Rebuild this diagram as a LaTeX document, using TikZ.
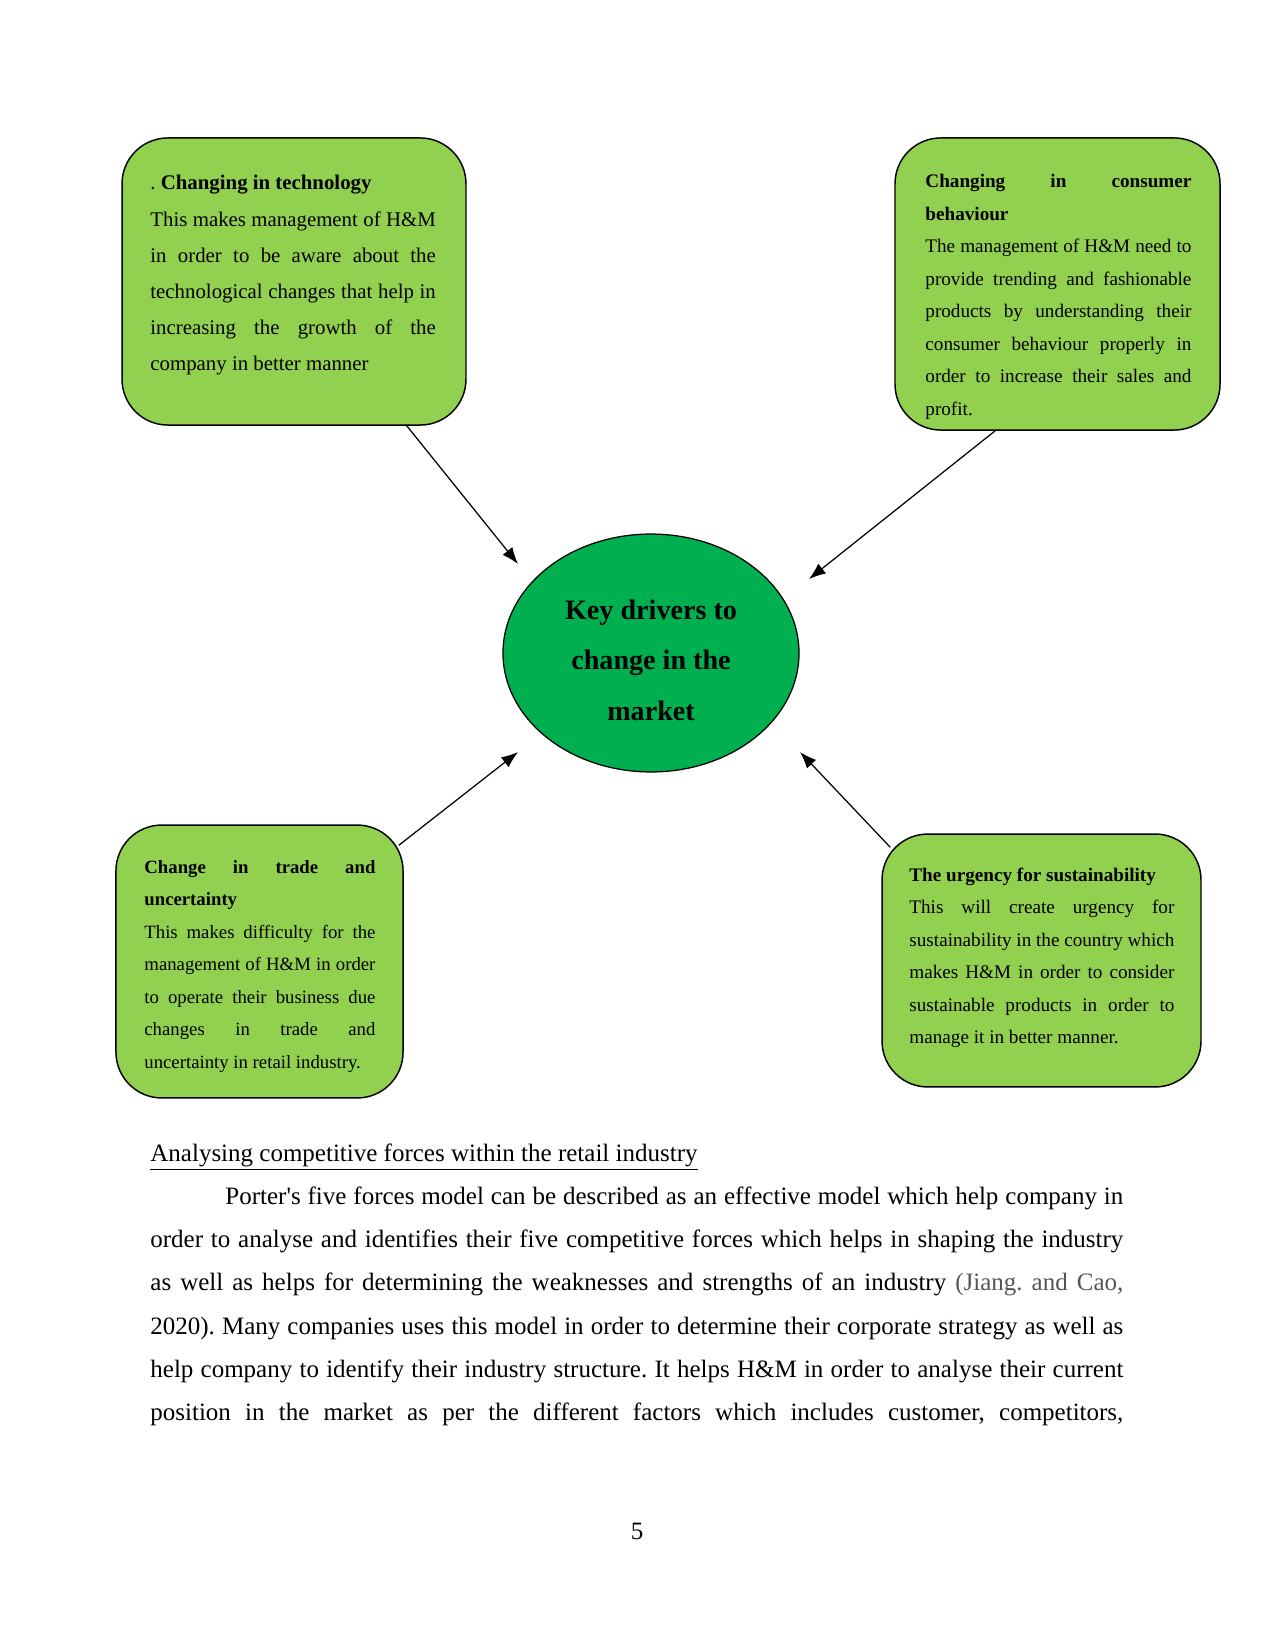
\documentclass[tikz,border=0pt]{standalone}
\usepackage{fontspec}
\setmainfont{Liberation Serif}
\usetikzlibrary{shapes.geometric,arrows.meta}
\definecolor{boxgreen}{HTML}{92D050}
\definecolor{coregreen}{HTML}{00B050}
\definecolor{citegray}{HTML}{555555}
\frenchspacing
\newcommand{\straightquote}{{\addfontfeature{Ligatures=TeXOff}'}}
\tikzset{
  drvbox/.style={draw=black, line width=0.7pt, fill=boxgreen, rounded corners=22pt, inner sep=0pt},
  drvtext/.style={anchor=base west, inner sep=0pt, align=justify},
  conn/.style={line width=0.6pt, -{Latex[length=8pt,width=6pt]}},
}
\begin{document}
\begin{tikzpicture}[x=0.48pt, y=-0.48pt]
\useasboundingbox (0,0) rectangle (1275,1650);
% boxes
\node[drvbox, minimum width=165.1pt, minimum height=137.8pt] (tl) at (294,281.5) {};
\node[drvbox, minimum width=156pt, minimum height=140.2pt] (tr) at (1057.5,284) {};
\node[drvbox, minimum width=137.8pt, minimum height=131pt] (bl) at (259.5,961.5) {};
\node[drvbox, minimum width=153.1pt, minimum height=121.4pt] (br) at (1041.5,960.5) {};
% centre
\node[draw=black, line width=0.6pt, fill=coregreen, ellipse, minimum width=142.1pt, minimum height=114.2pt, inner sep=0pt] (core) at (651,653) {};
\node[anchor=base, inner sep=0pt, align=center, font={\fontsize{13.5}{24.2}\selectfont\bfseries}] (coretext) at (651,720) {Key drivers to\\change in the\\market};
% box texts
\node[drvtext, text width=137pt, font={\fontsize{10}{17.3}\selectfont}] (tltext) at (150,190)
{. \textbf{Changing in technology}\\
This makes management of H\&M\linebreak in order to be aware about the\linebreak technological changes that help in\linebreak increasing the growth of the\linebreak company in better manner};
\node[drvtext, text width=127.7pt, font={\fontsize{9.2}{15.6}\selectfont}] (trtext) at (925,188)
{\textbf{Changing in consumer}\linebreak \textbf{behaviour}\\
The management of H\&M need to\linebreak provide trending and fashionable\linebreak products by understanding their\linebreak consumer behaviour properly in\linebreak order to increase their sales and\linebreak profit.};
\node[drvtext, text width=110.9pt, font={\fontsize{9}{15.6}\selectfont}] (bltext) at (144,873)
{\textbf{Change in trade and}\linebreak \textbf{uncertainty}\\
This makes difficulty for the\linebreak management of H\&M in order\linebreak to operate their business due\linebreak changes in trade and\linebreak uncertainty in retail industry.};
\node[drvtext, text width=127.2pt, font={\fontsize{9.2}{15.6}\selectfont}] (brtext) at (909,881)
{\textbf{The urgency for sustainability}\\
This will create urgency for\linebreak sustainability in the country which\linebreak makes H\&M in order to consider\linebreak sustainable products in order to\linebreak manage it in better manner.};
% arrows
\coordinate (t1) at (518,564);
\coordinate (t2) at (809,579);
\coordinate (t3) at (518,752);
\coordinate (t4) at (800,752);
\draw[conn] (tl.-52.5) -- (t1);
\draw[conn] (tr.-113.5) -- (t2);
\draw[conn] ([shift={(-5,21)}]bl.north east) -- (t3);
\draw[conn] ([shift={(9,14)}]br.north west) -- (t4);
% body text
\node[anchor=base west, inner sep=0pt, font={\fontsize{12}{14}\selectfont}] (heading) at (150,1161)
{\underline{Analysing competitive forces within the retail industry}};
\node[drvtext, text width=467pt, font={\fontsize{12}{20.8}\selectfont}] (para) at (150,1204)
{\hspace*{36pt}Porter\straightquote s five forces model can be described as an effective model which help company in\linebreak
order to analyse and identifies their five competitive forces which helps in shaping the industry\linebreak
as well as helps for determining the weaknesses and strengths of an industry {\color{citegray}(Jiang. and Cao,}\linebreak
2020). Many companies uses this model in order to determine their corporate strategy as well as\linebreak
help company to identify their industry structure. It helps H\&M in order to analyse their current\linebreak
position in the market as per the different factors which includes customer, competitors,\parfillskip=0pt\par};
\node[anchor=base, inner sep=0pt, font={\fontsize{12}{14}\selectfont}] (pagenum) at (637,1539) {5};
\end{tikzpicture}
\end{document}
